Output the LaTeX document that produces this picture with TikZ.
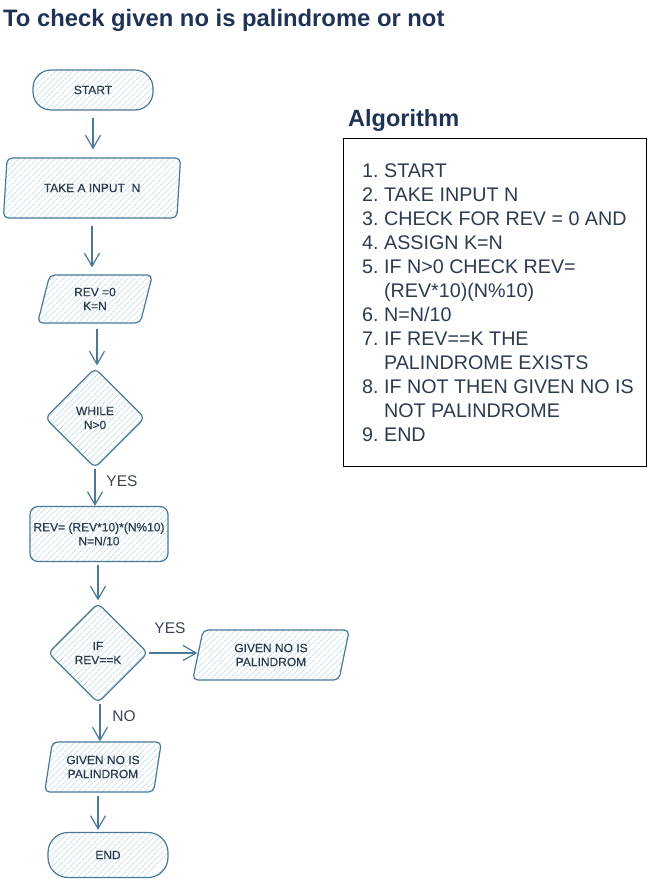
\documentclass[tikz,border=0pt]{standalone}
\usepackage{fontspec}
\setmainfont{Liberation Sans}
\newfontfamily\nodefont[FakeBold=0.5]{Liberation Sans}
\usetikzlibrary{shapes.geometric,patterns.meta,arrows.meta}
\definecolor{stroke}{HTML}{4A7898}
\definecolor{hatch}{HTML}{A6D0DE}
\definecolor{txt}{HTML}{2C3B4F}
\definecolor{ttl}{HTML}{1F3354}
\definecolor{lbl}{HTML}{3A4555}
\begin{document}
\begin{tikzpicture}[x=1pt,y=-1pt,
  sk/.style={draw=stroke, line width=1.2pt,
    pattern={Lines[angle=45,distance=4pt,line width=0.5pt]}, pattern color=hatch,
    text=txt, font=\nodefont\fontsize{12}{14}\selectfont, align=center, inner sep=0pt},
  term/.style={sk, rectangle, rounded corners=18pt},
  para/.style={sk, trapezium, trapezium left angle=76, trapezium right angle=104,
    trapezium stretches=true, rounded corners=5pt},
  dia/.style={sk, diamond, minimum width=100pt, minimum height=100pt, rounded corners=6pt},
  procbox/.style={sk, rectangle, rounded corners=8pt},
  arr/.style={draw=stroke, line width=1.2pt, -{Straight Barb[length=13pt,width=15pt,line width=1.2pt]}},
  lab/.style={text=lbl, font=\fontsize{15.5}{18}\selectfont, inner sep=0pt}
]
\useasboundingbox (0,0) rectangle (649,880);

\node[anchor=base west, text=ttl, font=\fontsize{23.8}{28}\selectfont\bfseries, inner sep=0pt] (title) at (3,27) {To check given no is palindrome or not};

\node[term, minimum width=120pt, minimum height=40pt] (start) at (93,90) {START};
\node[para, minimum width=178pt, minimum height=60pt] (input) at (92,188) {TAKE A INPUT \ N};
\node[para, minimum width=115pt, minimum height=48pt] (init) at (95,299) {REV =0\\K=N};
\node[dia] (while) at (95,418) {WHILE\\N>0};
\node[procbox, minimum width=138pt, minimum height=55pt] (rev) at (99,534) {REV= (REV*10)*(N\%10)\\N=N/10};
\node[dia] (ifk) at (98,653) {IF\\REV==K};
\node[para, minimum width=157pt, minimum height=50pt] (yesout) at (271,655) {GIVEN NO IS\\PALINDROM};
\node[para, minimum width=117pt, minimum height=50pt] (noout) at (103,767) {GIVEN NO IS\\PALINDROM};
\node[term, minimum width=120pt, minimum height=45pt, rounded corners=20pt] (end) at (108,855) {END};

\draw[arr, shorten <=8pt, shorten >=8pt] (start.south) -- (start.south |- input.north);
\draw[arr, shorten <=7pt, shorten >=7pt] (input.south) -- (input.south |- init.north);
\draw[arr, shorten <=5pt, shorten >=2pt] ([xshift=2pt]init.south) -- ([xshift=2pt]init.south |- while.north);
\draw[arr] (while.south) -- (while.south |- rev.north);
\draw[arr, shorten <=3pt, shorten >=2pt] ([xshift=-1pt]rev.south) -- ([xshift=-1pt]rev.south |- ifk.north);
\draw[arr] (ifk.east) -- (ifk.east -| yesout.west);
\draw[arr] ([xshift=2pt]ifk.south) -- ([xshift=2pt]ifk.south |- noout.north);
\draw[arr, shorten <=3pt, shorten >=2pt] ([xshift=-5pt]noout.south) -- ([xshift=-5pt]noout.south |- end.north);

\node[lab] (yes1) at (122,481) {YES};
\node[lab] (yes2) at (170,628) {YES};
\node[lab] (no1) at (124,716) {NO};

\node[anchor=base west, text=ttl, font=\fontsize{23.5}{28}\selectfont\bfseries, inner sep=0pt] (algt) at (348,127) {Algorithm};
\node[draw=black, line width=1pt, anchor=north west, minimum width=303pt, minimum height=328pt, inner sep=0pt] (algbox) at (343,138) {};
\node[anchor=base west, text=txt, inner sep=0pt, font=\fontsize{19.7}{24}\selectfont] (alglist) at (362,177) {%
\begin{tabular}[t]{@{}r@{\hspace{5.5pt}}l@{}}
1. & START\\
2. & TAKE INPUT N\\
3. & CHECK FOR REV = 0 AND\\
4. & ASSIGN K=N\\
5. & IF N>0 CHECK REV=\\
   & (REV*10)(N\%10)\\
6. & N=N/10\\
7. & IF REV==K THE\\
   & PALINDROME EXISTS\\
8. & IF NOT THEN GIVEN NO IS\\
   & NOT PALINDROME\\
9. & END
\end{tabular}};
\end{tikzpicture}
\end{document}
